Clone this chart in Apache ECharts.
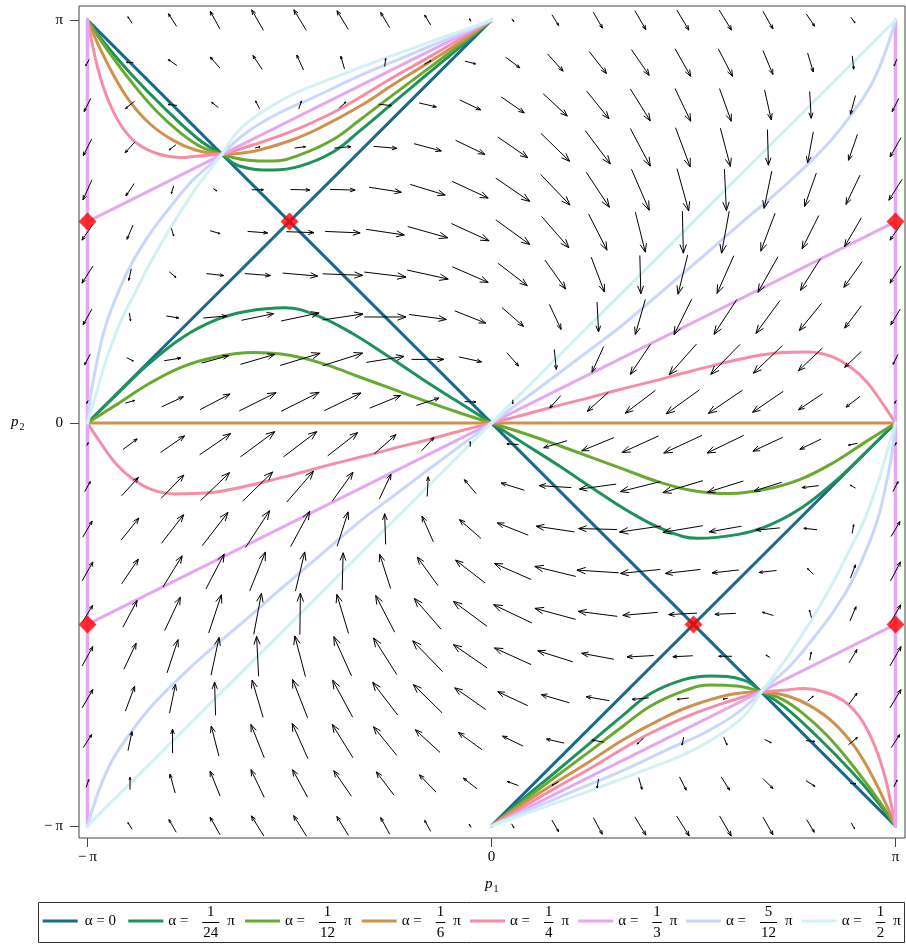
<!DOCTYPE html>
<html>
<head>
<meta charset="utf-8">
<script src="https://cdn.jsdelivr.net/npm/echarts@6/dist/echarts.min.js"></script>
<style>
  html, body { margin: 0; padding: 0; background: #ffffff; }
  #chart { width: 906px; height: 944px; }
</style>
</head>
<body>
<div id="chart"></div>
<script>
// All coordinates are in units of π: p / π.

// Axis ticks
const tickValues = [-1, 0, 1];
const tickLabels = ['\u2212\u2009π', '0', 'π'];

// Legend labels: α = num/den · π
const alphaNum = ['', '1', '1', '1', '1', '1', '5', '1'];
const alphaDen = ['', '24', '12', '6', '4', '3', '12', '2'];
const alphaNames = ['α = 0', 'α = 1/24 π', 'α = 1/12 π', 'α = 1/6 π', 'α = 1/4 π', 'α = 1/3 π', 'α = 5/12 π', 'α = 1/2 π'];

// Curves for each α, as lists of segments [[p1, p2], ...]
const curveA0 = [
  [[-1, 1], [1, -1]],
  [[-1, 0], [0, 1]],
  [[0, -1], [1, 0]]
];
const curveA1 = [
  [[-1, 1], [-0.957, 0.942], [-0.891, 0.865], [-0.808, 0.78], [-0.726, 0.705], [-0.667, 0.667]],
  [[-0.667, 0.667], [-0.624, 0.638], [-0.542, 0.628], [-0.476, 0.637], [-0.393, 0.672], [-0.326, 0.725], [-0.243, 0.795], [-0.16, 0.865], [-0.078, 0.933], [0, 1]],
  [[-1, 0], [-0.929, 0.07], [-0.847, 0.148], [-0.764, 0.213], [-0.682, 0.256], [-0.608, 0.277], [-0.51, 0.286], [-0.43, 0.266], [-0.344, 0.222], [-0.252, 0.163], [-0.17, 0.108], [-0.087, 0.055], [0, 0]],
  [[0, 0], [0.087, -0.055], [0.17, -0.108], [0.252, -0.163], [0.344, -0.222], [0.43, -0.266], [0.51, -0.286], [0.608, -0.277], [0.682, -0.256], [0.764, -0.213], [0.847, -0.148], [0.929, -0.07], [1, 0]],
  [[0, -1], [0.078, -0.933], [0.16, -0.865], [0.243, -0.795], [0.326, -0.725], [0.393, -0.672], [0.476, -0.637], [0.542, -0.628], [0.624, -0.638], [0.667, -0.667]],
  [[0.667, -0.667], [0.726, -0.705], [0.808, -0.78], [0.891, -0.865], [0.957, -0.942], [1, -1]]
];
const curveA2 = [
  [[-1, 1], [-0.95, 0.925], [-0.89, 0.845], [-0.83, 0.775], [-0.77, 0.72], [-0.72, 0.686], [-0.667, 0.667]],
  [[-0.667, 0.667], [-0.608, 0.653], [-0.542, 0.65], [-0.476, 0.665], [-0.393, 0.703], [-0.326, 0.752], [-0.243, 0.815], [-0.16, 0.877], [-0.078, 0.939], [0, 1]],
  [[-1, 0], [-0.929, 0.045], [-0.847, 0.098], [-0.764, 0.14], [-0.682, 0.164], [-0.59, 0.175], [-0.5, 0.168], [-0.41, 0.145], [-0.323, 0.113], [-0.252, 0.087], [-0.17, 0.057], [-0.087, 0.028], [0, 0]],
  [[0, 0], [0.087, -0.028], [0.17, -0.057], [0.252, -0.087], [0.323, -0.113], [0.41, -0.145], [0.5, -0.168], [0.59, -0.175], [0.682, -0.164], [0.764, -0.14], [0.847, -0.098], [0.929, -0.045], [1, 0]],
  [[0, -1], [0.078, -0.939], [0.16, -0.877], [0.243, -0.815], [0.326, -0.752], [0.393, -0.703], [0.476, -0.665], [0.542, -0.65], [0.608, -0.653], [0.667, -0.667]],
  [[0.667, -0.667], [0.72, -0.686], [0.77, -0.72], [0.83, -0.775], [0.89, -0.845], [0.95, -0.925], [1, -1]]
];
const curveA3 = [
  [[-1, 1], [-0.971, 0.934], [-0.938, 0.868], [-0.897, 0.801], [-0.847, 0.744], [-0.789, 0.702], [-0.731, 0.677], [-0.667, 0.667]],
  [[-0.667, 0.667], [-0.591, 0.674], [-0.492, 0.703], [-0.42, 0.735], [-0.326, 0.786], [-0.243, 0.84], [-0.16, 0.892], [-0.078, 0.945], [0, 1]],
  [[-1, 0], [1, 0]],
  [[0, -1], [0.078, -0.945], [0.16, -0.892], [0.243, -0.84], [0.326, -0.786], [0.42, -0.735], [0.492, -0.703], [0.591, -0.674], [0.667, -0.667]],
  [[0.667, -0.667], [0.731, -0.677], [0.789, -0.702], [0.847, -0.744], [0.897, -0.801], [0.938, -0.868], [0.971, -0.934], [1, -1]]
];
const curveA4 = [
  [[-1, 1], [-0.99, 0.95], [-0.976, 0.886], [-0.958, 0.826], [-0.938, 0.777], [-0.909, 0.727], [-0.872, 0.69], [-0.822, 0.667], [-0.773, 0.659], [-0.723, 0.663], [-0.667, 0.667]],
  [[-0.667, 0.667], [-0.591, 0.69], [-0.492, 0.725], [-0.393, 0.77], [-0.326, 0.808], [-0.243, 0.858], [-0.16, 0.905], [-0.078, 0.953], [0, 1]],
  [[-1, 0], [-0.971, -0.044], [-0.929, -0.102], [-0.888, -0.139], [-0.839, -0.166], [-0.781, -0.176], [-0.707, -0.174], [-0.641, -0.164], [-0.558, -0.145], [-0.476, -0.124], [-0.394, -0.102], [-0.313, -0.082], [-0.243, -0.063], [-0.16, -0.042], [-0.078, -0.02], [0, 0]],
  [[0, 0], [0.078, 0.02], [0.16, 0.042], [0.243, 0.063], [0.313, 0.082], [0.394, 0.102], [0.476, 0.124], [0.558, 0.145], [0.641, 0.164], [0.707, 0.174], [0.781, 0.176], [0.839, 0.166], [0.888, 0.139], [0.929, 0.102], [0.971, 0.044], [1, 0]],
  [[0, -1], [0.078, -0.953], [0.16, -0.905], [0.243, -0.858], [0.326, -0.808], [0.393, -0.77], [0.492, -0.725], [0.591, -0.69], [0.667, -0.667]],
  [[0.667, -0.667], [0.723, -0.663], [0.773, -0.659], [0.822, -0.667], [0.872, -0.69], [0.909, -0.727], [0.938, -0.777], [0.958, -0.826], [0.976, -0.886], [0.99, -0.95], [1, -1]]
];
const curveA5 = [
  [[-1, -1], [-1, 1]],
  [[1, -1], [1, 1]],
  [[-1, 0.5], [0, 1]],
  [[-1, -0.5], [1, 0.5]],
  [[0, -1], [1, -0.5]]
];
const curveA6 = [
  [[-1, 0], [-0.992, 0.07], [-0.977, 0.15], [-0.957, 0.235], [-0.928, 0.315], [-0.89, 0.397], [-0.845, 0.47], [-0.8, 0.53], [-0.742, 0.6], [-0.7, 0.638], [-0.667, 0.667]],
  [[-0.667, 0.667], [-0.608, 0.72], [-0.525, 0.77], [-0.434, 0.811], [-0.326, 0.862], [-0.243, 0.897], [-0.16, 0.932], [-0.078, 0.966], [0, 1]],
  [[-1, -1], [-0.971, -0.91], [-0.938, -0.836], [-0.892, -0.767], [-0.839, -0.7], [-0.773, -0.633], [-0.699, -0.565], [-0.616, -0.495], [-0.525, -0.415], [-0.426, -0.33], [-0.323, -0.242], [-0.252, -0.188], [-0.17, -0.126], [-0.087, -0.064], [0, 0]],
  [[0, 0], [0.087, 0.064], [0.17, 0.126], [0.252, 0.188], [0.323, 0.242], [0.426, 0.33], [0.525, 0.415], [0.616, 0.495], [0.699, 0.565], [0.773, 0.633], [0.839, 0.7], [0.892, 0.767], [0.938, 0.836], [0.971, 0.91], [1, 1]],
  [[0, -1], [0.078, -0.966], [0.16, -0.932], [0.243, -0.897], [0.326, -0.862], [0.434, -0.811], [0.525, -0.77], [0.608, -0.72], [0.667, -0.667]],
  [[0.667, -0.667], [0.7, -0.638], [0.742, -0.6], [0.8, -0.53], [0.845, -0.47], [0.89, -0.397], [0.928, -0.315], [0.957, -0.235], [0.977, -0.15], [0.992, -0.07], [1, 0]]
];
const curveA7 = [
  [[-1, -1], [1, 1]],
  [[-1, 0], [-0.978, 0.075], [-0.955, 0.152], [-0.921, 0.245], [-0.884, 0.32], [-0.847, 0.393], [-0.798, 0.479], [-0.74, 0.57], [-0.7, 0.625], [-0.667, 0.667]],
  [[-0.667, 0.667], [-0.624, 0.728], [-0.558, 0.778], [-0.476, 0.823], [-0.393, 0.856], [-0.326, 0.882], [-0.243, 0.913], [-0.16, 0.943], [-0.078, 0.972], [0, 1]],
  [[0, -1], [0.078, -0.972], [0.16, -0.943], [0.243, -0.913], [0.326, -0.882], [0.393, -0.856], [0.476, -0.823], [0.558, -0.778], [0.624, -0.728], [0.667, -0.667]],
  [[0.667, -0.667], [0.7, -0.625], [0.74, -0.57], [0.798, -0.479], [0.847, -0.393], [0.884, -0.32], [0.921, -0.245], [0.955, -0.152], [0.978, -0.075], [1, 0]]
];

// Equilibria marked with red diamonds
const diamondPoints = [[-1, 0.5], [-0.5, 0.5], [1, 0.5], [-1, -0.5], [0.5, -0.5], [1, -0.5]];

// Direction field on a 20 x 20 grid over [-π, π]²; rows run from p2 = π (top) down to p2 = -π.
const fieldDX = [
  [0, -4.3, -8.3, -9.7, -11.7, -12.5, -11.3, -9, -6, -1.5, 2, 6.7, 9.3, 11, 12, 12.3, 10, 8.3, 4, 0],
  [-3.5, -7, -8.7, -9.7, -9.3, -6.7, -3.7, 1, 6.5, 10.7, 14.3, 15.7, 17.3, 17.7, 15.7, 14.3, 10, 5.7, 1.5, -2.7],
  [-6.7, -9, -9, -6.7, -4, 2.7, 6.7, 13.3, 17.3, 21, 23, 24, 22.3, 20, 15.7, 11.7, 6.7, 1.5, -5, -6.7],
  [-8.3, -9.7, -6.7, 0, 5, 10.7, 16.7, 23.3, 27.3, 29.3, 30, 28.7, 25, 20, 14.7, 10, 1, -5.7, -9, -11],
  [-9, -8.3, -2.3, 3.7, 11.7, 19.3, 25, 32.3, 35, 36, 34, 29.3, 23, 17.7, 11.7, 2, -7.7, -11.7, -14, -13.3],
  [-11, -6, 2.3, 10, 20, 27.7, 35, 38.3, 40, 37.7, 34, 27.3, 18.3, 10, 1, -7.7, -14.3, -16.7, -16.7, -11],
  [-11, -2.5, 6.7, 17.3, 25.7, 35, 40, 41.7, 41, 36, 29, 20.7, 13.3, 1, -9.7, -16.7, -20, -20, -18.3, -11],
  [-8.7, 1, 12.3, 23.3, 32.3, 38, 40.7, 41.7, 37.3, 31, 21.7, 11.7, 1.5, -10, -17.7, -22.7, -24, -22.3, -16.7, -9.3],
  [-5.7, 6.7, 16.7, 26.7, 34.3, 40, 40, 37.7, 32.3, 22.7, 11.7, 2, -11.7, -20, -27.3, -29.3, -29, -24, -16.7, -5],
  [-1.5, 9.3, 21.7, 30, 36.7, 38, 36.7, 31, 22.7, 11.3, 0, -11, -21, -30, -33.3, -34.3, -30.7, -24, -14, -1.5],
  [1.5, 14.3, 24, 31, 34.3, 33.3, 30, 21.7, 12.3, 0, -11.7, -23.3, -32.3, -36.7, -38.3, -36.7, -30, -21.3, -9, 1.5],
  [5.7, 16.7, 22.7, 29, 30, 26.7, 20.7, 11.7, 1, -11.7, -23.3, -32.3, -36.7, -40, -40, -36, -27.7, -16.7, -5, 5.3],
  [9.3, 17.7, 22.3, 25.7, 24, 19, 11, -1, -11.3, -21.7, -31, -38.3, -38.3, -41.7, -40, -32.3, -24, -13.3, 1.5, 9],
  [10.7, 16.7, 19.3, 18.3, 15.7, 9.3, 1, -11, -20.7, -29.3, -36.7, -41, -41.7, -40, -35, -26.7, -17.3, -6, 5, 10],
  [10.5, 14.3, 15.7, 12.7, 7.7, 0.5, -11.7, -19, -26.7, -33.7, -38.3, -40.7, -39, -35, -28.3, -21, -11, -2, 6, 10.5],
  [10.7, 12.3, 11, 8, -2, -10.7, -17.7, -23.3, -30, -33.7, -36.7, -35, -32.3, -26.7, -20, -13.3, -4, 1.5, 8, 11],
  [10.7, 9.3, 6, -1, -11, -15, -20, -25, -28.7, -31, -30, -28.3, -23.3, -16.7, -11.7, -4.7, 0, 5.7, 8, 11],
  [8.5, 4, 0, -7.7, -13.3, -15.7, -20.7, -23.3, -24.7, -23.7, -20.7, -17.7, -12, -6.7, -1.5, 3.3, 6.7, 9, 9, 8.5],
  [2.7, 0, -5.3, -10, -13.3, -15, -17.7, -17.7, -16.7, -13.7, -11, -6.5, -1.5, 3.3, 6.7, 8.3, 10, 9, 6, 3.3],
  [0, -4.3, -7.3, -10, -12.3, -13, -11.7, -9, -6, -2, 2.3, 6.7, 9, 11, 12.7, 11.7, 10, 7.7, 3.3, 0]
];
const fieldDY = [
  [0, 6.7, 12.7, 17.7, 20.5, 20.7, 18.7, 15.3, 10, 2.5, -2.7, -10.7, -16, -19, -20, -20, -17.7, -12.3, -5.7, 0],
  [-6.5, 0.5, 6, 11, 14, 15, 12.7, 8, 3.5, -2.7, -10.7, -17.3, -22, -25.7, -27.7, -27.7, -24, -19, -13.3, -6.7],
  [-13.3, -7.3, 1, 5.3, 8, 8, 6, -1.5, -4, -10, -16, -22.3, -27.7, -32, -32.7, -32.7, -30, -26.7, -18.7, -13.3],
  [-16.7, -10.7, -5, 0, 1, 1.3, 1.5, -2, -7.3, -14, -20.7, -28, -33.3, -37.7, -39.3, -38.3, -35.7, -31, -26, -19.3],
  [-20, -12.3, -7.7, -2.3, 0, -0.5, -0.7, -5, -10.7, -16.7, -23.3, -30.7, -35, -41, -42.3, -41.7, -37.3, -33.3, -29.3, -21],
  [-16, -14.3, -7.7, -3, -1.5, -1, -1.5, -5.7, -11.3, -17.3, -24.7, -31.3, -36, -40, -42, -42, -38, -33.3, -28.7, -16],
  [-17, -11.7, -5.7, -2, -2, -3, -1.5, -5, -9, -15.7, -22.3, -29, -35, -38.3, -39.3, -37.7, -35.7, -31.7, -25.7, -17],
  [-15.7, -8, -2, 2, 6.7, 8, 6, 0, -5, -12.3, -19, -25, -30, -35, -35.7, -34.7, -32.7, -27.3, -22.3, -15.7],
  [-10.7, -3.3, 2.7, 7.3, 10, 12.3, 12.7, 6, 0, -5, -13.3, -20, -25.7, -30, -30.7, -30, -27.7, -22.7, -16, -10],
  [-3, 2.7, 10, 15.7, 18.3, 19, 17.7, 12.7, 7.3, -0.5, -4, -12.3, -19, -22.7, -24, -23.3, -21, -16, -10.7, -3],
  [3, 10.7, 16.7, 21.3, 25.3, 25.3, 23.3, 19.3, 13.3, 5, 0.5, -7, -13.3, -16.7, -17.7, -17.7, -14, -10.3, -2, 3],
  [10, 18.3, 23.3, 28, 29.3, 31, 29, 25, 19.7, 14, 7.3, 2, -5, -10, -12, -11.3, -8.7, -2, 3, 10],
  [16, 22, 28.7, 33.3, 36.7, 35.3, 34.3, 30.7, 25.7, 19, 12.3, 5.7, 1, -6, -6.7, -5.7, -2.3, 1.5, 8.7, 15],
  [19, 24.7, 31.3, 35, 39, 39, 37.3, 34.3, 28.7, 22.7, 16, 10, 2.7, -4, -4, -3, -2, 6, 13.3, 19],
  [17, 26.7, 33.3, 38.3, 41, 41.7, 39, 36.7, 30.7, 25, 18.3, 11, 5, -3, -1.5, -1, 3.3, 7.7, 14.3, 18],
  [19.3, 26, 33.3, 37.7, 40, 40.7, 39.3, 36.7, 31, 23.3, 16.7, 11, 6, -1.5, -1, 0, 2.3, 8, 13.3, 19.3],
  [18.3, 25, 29, 33.3, 37.3, 38.3, 37, 32.7, 28.3, 21.7, 14, 8.3, 4, -1.5, -1.3, -1, 0, 5, 11, 18.3],
  [13, 19, 24, 30, 33.3, 35.3, 33.3, 28.7, 22.7, 17.3, 10, 4, 2, -6, -8, -8, -3.3, -1, 7.3, 13],
  [7.7, 12.3, 19, 25, 27.7, 27.7, 25.7, 23.3, 17.3, 10.7, 4, -3.5, -9, -11.7, -13.3, -13.3, -10, -5.7, -0.5, 6.7],
  [0, 6.7, 12.7, 17.7, 20, 20.7, 19, 16.7, 11, 3.3, -4.3, -11.7, -16.7, -18.3, -20, -20, -17.7, -12.7, -6, 0]
];

// ---- styling ----
const alphaColors = ['#1b6a8b', '#1f925b', '#6aa931', '#cf914d', '#f68da7', '#e4a7f2', '#cad6fb', '#d3f1f4'];
const serif = '"Liberation Serif", "DejaVu Serif", serif';
const frameColor = '#444';

const curveSets = [curveA0, curveA1, curveA2, curveA3, curveA4, curveA5, curveA6, curveA7];

const series = [];
curveSets.forEach(function (segs, k) {
  segs.forEach(function (seg) {
    const vertical = seg.length === 2 && seg[0][0] === seg[1][0];
    series.push({
      type: 'line',
      name: alphaNames[k],
      data: seg,
      smooth: seg.length > 2 ? 0.4 : false,
      showSymbol: false,
      symbol: 'none',
      silent: true,
      animation: false,
      z: 2,
      lineStyle: { color: alphaColors[k], width: vertical ? 3.5 : 3, cap: 'round', join: 'round' }
    });
  });
});

// direction field arrows, centred on their grid points
const gridN = fieldDX.length;
const arrowData = [];
for (let j = 0; j < gridN; j++) {
  for (let i = 0; i < gridN; i++) {
    arrowData.push([-1 + i * 2 / (gridN - 1), 1 - j * 2 / (gridN - 1), fieldDX[j][i], fieldDY[j][i]]);
  }
}

function renderArrow(params, api) {
  const x = api.value(0), y = api.value(1), u = api.value(2), v = api.value(3);
  if (!u && !v) return null;
  const a = api.coord([x - u / 808, y - v / 806]);
  const b = api.coord([x + u / 808, y + v / 806]);
  const dx = b[0] - a[0], dy = b[1] - a[1];
  const L = Math.sqrt(dx * dx + dy * dy);
  const h = Math.max(1.5, 0.22 * L);
  const ang = Math.atan2(dy, dx), phi = 0.36;
  const p1 = [b[0] - h * Math.cos(ang - phi), b[1] - h * Math.sin(ang - phi)];
  const p2 = [b[0] - h * Math.cos(ang + phi), b[1] - h * Math.sin(ang + phi)];
  return {
    type: 'group',
    children: [
      { type: 'polyline', shape: { points: [a, b] }, style: { stroke: '#000', lineWidth: 1, fill: null } },
      { type: 'polyline', shape: { points: [p1, b, p2] }, style: { stroke: '#000', lineWidth: 1, fill: null } }
    ]
  };
}

series.push({
  type: 'custom',
  name: 'field',
  data: arrowData,
  encode: { x: 0, y: 1 },
  renderItem: renderArrow,
  silent: true,
  animation: false,
  z: 3
});

series.push({
  type: 'scatter',
  name: 'equilibria',
  data: diamondPoints,
  symbol: 'diamond',
  symbolSize: [18, 18],
  itemStyle: { color: '#ff0000' },
  silent: true,
  animation: false,
  z: 4
});

// ---- legend drawn as graphics (stacked fractions) ----
const measureCtx = document.createElement('canvas').getContext('2d');
measureCtx.font = '15px ' + serif;
function textWidth(s) { return measureCtx.measureText(s).width; }

const legendLineStarts = [42.7, 128.3, 245, 361.7, 470, 578.3, 686, 801.7];
const legendY = 921;
const graphics = [{
  type: 'rect',
  shape: { x: 38.5, y: 902.5, width: 866, height: 40 },
  style: { fill: '#fff', stroke: '#333', lineWidth: 1 },
  z: 10
}];
function txt(s, x, y, align, extra) {
  return {
    type: 'text', x: x, y: y, z: 11,
    style: Object.assign({
      text: s, font: '15px ' + serif, fill: '#000',
      textAlign: align, textVerticalAlign: 'middle', align: align, verticalAlign: 'middle'
    }, extra || {})
  };
}
legendLineStarts.forEach(function (x0, k) {
  graphics.push({
    type: 'line', z: 11,
    shape: { x1: x0, y1: legendY, x2: x0 + 35, y2: legendY },
    style: { stroke: alphaColors[k], lineWidth: 3 }
  });
  if (!alphaNum[k]) {
    graphics.push(txt('α = 0', x0 + 42, legendY, 'left'));
    return;
  }
  graphics.push(txt('α =', x0 + 40, legendY, 'left'));
  const fl = x0 + 74;
  const fw = Math.max(textWidth(alphaNum[k]), textWidth(alphaDen[k])) + 2;
  const fc = fl + fw / 2;
  graphics.push(txt(alphaNum[k], fc, legendY - 8.5, 'center'));
  graphics.push({
    type: 'line', z: 11,
    shape: { x1: fl, y1: legendY + 1.5, x2: fl + fw, y2: legendY + 1.5 },
    style: { stroke: '#000', lineWidth: 1 }
  });
  graphics.push(txt(alphaDen[k], fc, legendY + 12.5, 'center'));
  graphics.push(txt('π', fl + fw + 8, legendY, 'left'));
});

// axis titles p1, p2
graphics.push(txt('p', 485, 884, 'left', { font: 'italic 15px ' + serif }));
graphics.push(txt('1', 493.5, 889, 'left', { font: '10px ' + serif }));
graphics.push(txt('p', 11, 422, 'left', { font: 'italic 15px ' + serif }));
graphics.push(txt('2', 19.5, 427, 'left', { font: '10px ' + serif }));

function tickFormatter(v) {
  const idx = tickValues.indexOf(Math.round(v * 1000) / 1000);
  return idx >= 0 ? tickLabels[idx] : '';
}

const chart = echarts.init(document.getElementById('chart'), null, { renderer: 'canvas' });
chart.setOption({
  animation: false,
  backgroundColor: '#ffffff',
  grid: {
    left: 79, top: 6, width: 826, height: 832,
    show: true, borderColor: frameColor, borderWidth: 1, backgroundColor: 'transparent'
  },
  xAxis: {
    type: 'value', min: -1.021, max: 1.0235,
    axisLine: { show: false, onZero: false },
    splitLine: { show: false },
    axisTick: { show: true, length: 9, customValues: tickValues, lineStyle: { color: frameColor } },
    axisLabel: {
      customValues: tickValues, formatter: tickFormatter, margin: 12,
      fontFamily: serif, fontSize: 15, color: '#000'
    }
  },
  yAxis: {
    type: 'value', min: -1.030, max: 1.035,
    axisLine: { show: false, onZero: false },
    splitLine: { show: false },
    axisTick: { show: true, length: 9, customValues: tickValues, lineStyle: { color: frameColor } },
    axisLabel: {
      customValues: tickValues, formatter: tickFormatter, margin: 16,
      fontFamily: serif, fontSize: 15, color: '#000'
    }
  },
  graphic: graphics,
  series: series
});
</script>
</body>
</html>
